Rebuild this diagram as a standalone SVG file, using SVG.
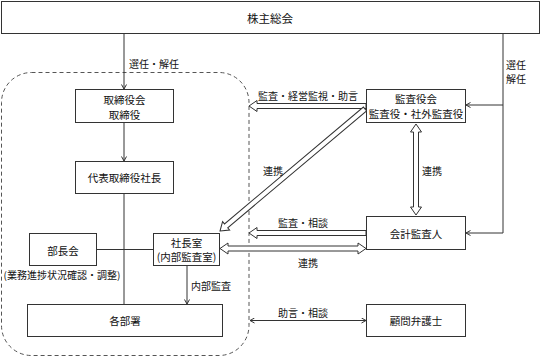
<svg xmlns="http://www.w3.org/2000/svg" width="541" height="358" viewBox="0 0 541 358">
<style>
.box{fill:#fff;stroke:#333;stroke-width:1}
.t{font-family:"Noto Sans CJK JP","Noto Sans CJK SC",sans-serif;font-size:10.5px;fill:#111;text-anchor:middle;dominant-baseline:central}
.l{font-size:10px}
.s{text-anchor:start}
.ln{fill:none;stroke:#333;stroke-width:1}
.ha{fill:#fff;stroke:#333;stroke-width:1}
.dash{fill:none;stroke:#555;stroke-width:1;stroke-dasharray:4 3}
</style>
<defs>
<marker id="ah" markerWidth="6" markerHeight="6" refX="5" refY="3" orient="auto-start-reverse" markerUnits="userSpaceOnUse">
<path d="M0.5,0.5 L5,3 L0.5,5.5" fill="none" stroke="#333" stroke-width="1"/>
</marker>
</defs>
<rect id="group-boundary" class="dash" x="1.5" y="72.5" width="247.5" height="283" rx="30" ry="30"/>
<g id="connectors">
<line class="ln" x1="124" y1="34" x2="124" y2="89" marker-end="url(#ah)"/>
<line class="ln" x1="124" y1="122.5" x2="124" y2="161" marker-end="url(#ah)"/>
<line class="ln" x1="124" y1="193.5" x2="124" y2="304"/>
<line class="ln" x1="96.5" y1="249.5" x2="153.5" y2="249.5"/>
<line class="ln" x1="187" y1="265.5" x2="187" y2="304" marker-end="url(#ah)"/>
<path class="ln" d="M503,34 V233 H466" marker-end="url(#ah)"/>
<path class="ln" d="M503,105 H466" marker-end="url(#ah)"/>
<path class="ha" d="M366,103.5 H257 V100.5 L249,106 L257,111.5 V108.5 H366 Z"/>
<path class="ha" transform="translate(220,231) rotate(139.92)" d="M0,0 L-8,-5.5 L-8,-2.5 L-189.5,-2.5 L-189.5,2.5 L-8,2.5 L-8,5.5 Z"/>
<path class="ha" transform="translate(416,124) rotate(90)" d="M0,0 L8,-5.5 L8,-2.5 L83,-2.5 L83,-5.5 L91,0 L83,5.5 L83,2.5 L8,2.5 L8,5.5 Z"/>
<path class="ha" d="M366,230.5 H257 V227.5 L249,233 L257,238.5 V235.5 H366 Z"/>
<path class="ha" d="M220,248.5 L228,243 L228,246 L358,246 L358,243 L366,248.5 L358,254 L358,251 L228,251 L228,254 Z"/>
<line class="ln" x1="250" y1="320.5" x2="366" y2="320.5" marker-start="url(#ah)" marker-end="url(#ah)"/>
<text class="t l s" x="129" y="63">選任・解任</text>
<text class="t l" x="516" y="64">選任</text>
<text class="t l" x="516" y="78">解任</text>
<text class="t l" x="308" y="95">監査・経営監視・助言</text>
<text class="t l" x="273" y="170">連携</text>
<text class="t l" x="432" y="170">連携</text>
<text class="t l" x="303" y="222">監査・相談</text>
<text class="t l" x="308" y="262">連携</text>
<text class="t l" x="303" y="312">助言・相談</text>
<text class="t l" x="211" y="285">内部監査</text>
<text class="t l" x="62" y="274">(業務進捗状況確認・調整)</text>
</g>
<g id="shareholders"><rect class="box" x="1.5" y="1.5" width="538" height="32"/><text class="t" style="font-size:11.5px" x="270" y="17.5">株主総会</text></g>
<g id="board"><rect class="box" x="75.5" y="89.5" width="98" height="33"/><text class="t" x="124.5" y="99">取締役会</text><text class="t" x="124.5" y="114">取締役</text></g>
<g id="president"><rect class="box" x="75.5" y="161.5" width="98" height="32"/><text class="t" x="124.5" y="177.5">代表取締役社長</text></g>
<g id="bucho"><rect class="box" x="29.5" y="233.5" width="67" height="32"/><text class="t" x="63" y="250">部長会</text></g>
<g id="president-office"><rect class="box" x="153.5" y="233.5" width="66" height="32"/><text class="t" x="186.5" y="242.5">社長室</text><text class="t" x="186.5" y="256.5">(内部監査室)</text></g>
<g id="departments"><rect class="box" x="27.5" y="304.5" width="195" height="32"/><text class="t" x="125" y="320.5">各部署</text></g>
<g id="auditors"><rect class="box" x="366.5" y="89.5" width="99" height="33"/><text class="t" x="416" y="98.5">監査役会</text><text class="t" x="416" y="113.5">監査役・社外監査役</text></g>
<g id="accounting-auditor"><rect class="box" x="366.5" y="216.5" width="99" height="33"/><text class="t" x="416" y="233">会計監査人</text></g>
<g id="legal-advisor"><rect class="box" x="366.5" y="304.5" width="99" height="32"/><text class="t" x="416" y="320.5">顧問弁護士</text></g>
</svg>
